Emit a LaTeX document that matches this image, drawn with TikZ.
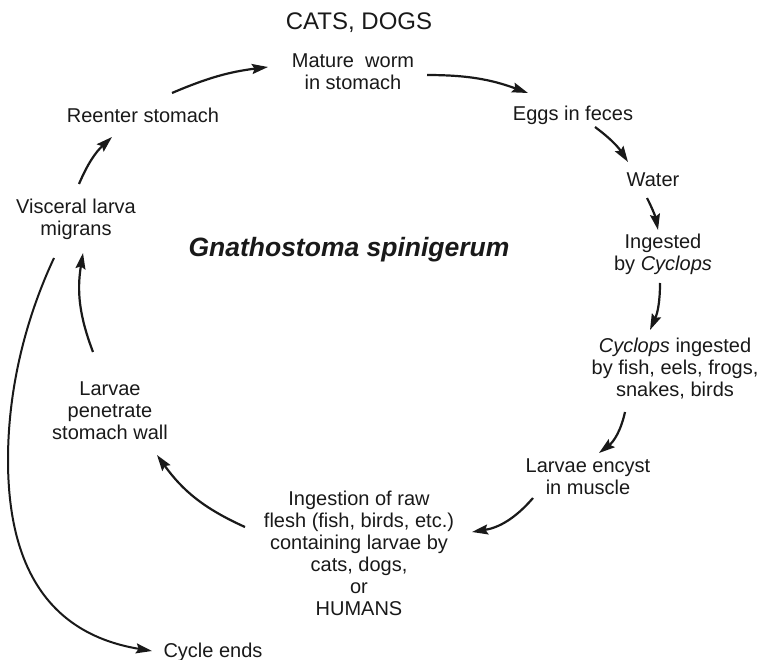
\documentclass[tikz,border=0pt]{standalone}
\usepackage{fontspec}
\setmainfont{Liberation Sans}
\usetikzlibrary{arrows.meta,calc}
\begin{document}
\begin{tikzpicture}[x=1pt,y=-1pt,
  lbl/.style={align=center,inner sep=0pt,text=black!90,font=\fontsize{20}{22}\selectfont},
  arr/.style={line width=2.2pt,black!90,-{Stealth[length=16pt,width=10pt,inset=2.5pt]}},
]
\useasboundingbox (0,0) rectangle (769,660);
\node[lbl,font=\fontsize{24}{28}\selectfont] (cats) at (359,23) {CATS, DOGS};
\node[lbl] (mature) at (353,72) {Mature\ \ worm\\in stomach};
\node[lbl] (eggs) at (573,115) {Eggs in feces};
\node[lbl] (water) at (653,180) {Water};
\node[lbl] (ingested) at (663,254) {Ingested\\by \textit{Cyclops}};
\node[lbl] (cyclops) at (675,369) {\textit{Cyclops} ingested\\by fish, eels, frogs,\\snakes, birds};
\node[lbl] (encyst) at (588,477) {Larvae encyst\\in muscle};
\node[lbl] (ingestion) at (359,553) {Ingestion of raw\\flesh (fish, birds, etc.)\\containing larvae by\\cats, dogs,\\or\\HUMANS};
\node[lbl] (penetrate) at (110,411) {Larvae\\penetrate\\stomach wall};
\node[lbl] (visceral) at (76,219) {Visceral larva\\migrans};
\node[lbl] (reenter) at (143,115) {Reenter stomach};
\node[lbl] (cycleends) at (213,652) {Cycle ends};
\node[lbl,font=\fontsize{26.5}{30}\selectfont\bfseries\itshape] (title) at (349,250) {Gnathostoma spinigerum};

\draw[arr] ($(reenter)+(29,-22)$) to[bend left=8] ($(mature)+(-85,-5)$);
\draw[arr] ($(mature)+(74,3)$) to[bend left=10] ($(eggs)+(-45,-22)$);
\draw[arr] ($(eggs)+(22,12)$) to[bend left=10] ($(water)+(-25,-18)$);
\draw[arr] ($(water)+(-6,18)$) to[bend left=8] ($(ingested)+(-5,-24)$);
\draw[arr] ($(ingested)+(-3,29)$) to[bend left=12] ($(cyclops)+(-25,-39)$);
\draw[arr] ($(cyclops)+(-50,43)$) to[bend left=20] ($(encyst)+(11,-24)$);
\draw[arr] ($(encyst)+(-55,21)$) to[bend left=20] ($(ingestion)+(113,-21)$);
\draw[arr] ($(ingestion)+(-114,-26)$) to[bend left=15] ($(penetrate)+(47,44)$);
\draw[arr] ($(penetrate)+(-17,-59)$) to[bend left=15] ($(visceral)+(7,34)$);
\draw[arr] ($(visceral)+(3,-35)$) to[bend left=12] ($(reenter)+(-31,22)$);
\draw[arr,line width=2pt] ($(visceral)+(-22,39)$) .. controls (25,320) and (8,390) .. (8,460)
   .. controls (8,575) and (55,635) .. ($(cycleends)+(-61,-1)$);
\end{tikzpicture}
\end{document}
